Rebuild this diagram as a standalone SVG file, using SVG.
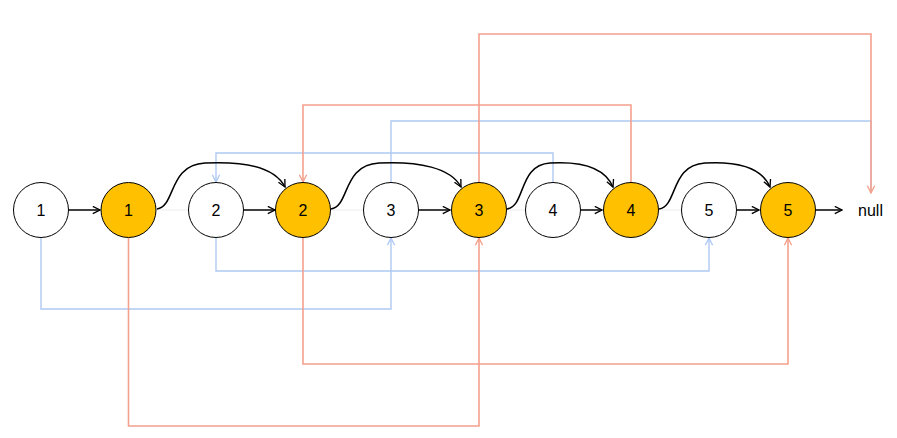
<svg xmlns="http://www.w3.org/2000/svg" width="897" height="438" viewBox="0 0 897 438">
<defs>
<style>
.w{fill:#ffffff;stroke:#000;stroke-width:1}
.o{fill:#FFC000;stroke:#000;stroke-width:1}
.t{font-family:"Liberation Sans",Arial,sans-serif;font-size:16px;fill:#000;text-anchor:middle;dominant-baseline:central}
.k{fill:none;stroke:#000;stroke-width:1.5}
.f{fill:none;stroke:#f0f0f0;stroke-width:1.2}
.r{fill:none;stroke:#F5A08C;stroke-width:1.6}
.b{fill:none;stroke:#AFC9F4;stroke-width:1.4}
</style>
<marker id="ak" viewBox="0 0 10 10" refX="9" refY="5" markerWidth="9" markerHeight="9" markerUnits="userSpaceOnUse" orient="auto"><path d="M1,1 L9,5 L1,9" fill="none" stroke="#000" stroke-width="1.5"/></marker>
<marker id="ar" viewBox="0 0 10 10" refX="9" refY="5" markerWidth="9" markerHeight="9" markerUnits="userSpaceOnUse" orient="auto"><path d="M1,1 L9,5 L1,9" fill="none" stroke="#F5A08C" stroke-width="1.5"/></marker>
<marker id="ab" viewBox="0 0 10 10" refX="9" refY="5" markerWidth="9" markerHeight="9" markerUnits="userSpaceOnUse" orient="auto"><path d="M1,1 L9,5 L1,9" fill="none" stroke="#AFC9F4" stroke-width="1.5"/></marker>
</defs>
<rect width="897" height="438" fill="#fff"/>
<g id="connectors">
<path class="f" d="M157,210 H188"/>
<path class="f" d="M331,210 H363"/>
<path class="f" d="M507,210 H525"/>
<path class="f" d="M659,210 H681"/>
<path class="b" d="M41,238 V309 H391 V238" marker-end="url(#ab)"/>
<path class="b" d="M216,238 V271 H709 V238" marker-end="url(#ab)"/>
<path class="b" d="M391,182 V121 H871 V193"/>
<path class="b" d="M553,182 V153 H216 V182" marker-end="url(#ab)"/>
<path class="r" d="M128.5,238 V426 H479 V238" marker-end="url(#ar)"/>
<path class="r" d="M479,182 V34 H871 V193" marker-end="url(#ar)"/>
<path class="r" d="M303,238 V364 H788 V238" marker-end="url(#ar)"/>
<path class="r" d="M631,182 V105 H303 V182" marker-end="url(#ar)"/>
<path class="k" d="M69,210 H100" marker-end="url(#ak)"/>
<path class="k" d="M244,210 H275" marker-end="url(#ak)"/>
<path class="k" d="M419,210 H450" marker-end="url(#ak)"/>
<path class="k" d="M581,210 H602" marker-end="url(#ak)"/>
<path class="k" d="M737,210 H759" marker-end="url(#ak)"/>
<path class="k" d="M816,210 H842" marker-end="url(#ak)"/>
<path class="k" d="M157,209 C176,206 168,165 205,163 C245,161 275,168 285,187" marker-end="url(#ak)"/>
<path class="k" d="M331,209 C350,206 342,165 379,163 C419,161 451,168 461,187" marker-end="url(#ak)"/>
<path class="k" d="M507,209 C526,206 518,165 550,163 C583,161 605,168 613,187" marker-end="url(#ak)"/>
<path class="k" d="M659,209 C678,206 670,165 705,163 C740,161 762,168 770,187" marker-end="url(#ak)"/>
</g>
<g id="w1"><circle class="w" cx="41" cy="210" r="27.5"/><text class="t" x="41" y="210">1</text></g>
<g id="o1"><circle class="o" cx="128.5" cy="210" r="27.5"/><text class="t" x="128.5" y="210">1</text></g>
<g id="w2"><circle class="w" cx="216" cy="210" r="27.5"/><text class="t" x="216" y="210">2</text></g>
<g id="o2"><circle class="o" cx="303" cy="210" r="27.5"/><text class="t" x="303" y="210">2</text></g>
<g id="w3"><circle class="w" cx="391" cy="210" r="27.5"/><text class="t" x="391" y="210">3</text></g>
<g id="o3"><circle class="o" cx="479" cy="210" r="27.5"/><text class="t" x="479" y="210">3</text></g>
<g id="w4"><circle class="w" cx="553" cy="210" r="27.5"/><text class="t" x="553" y="210">4</text></g>
<g id="o4"><circle class="o" cx="631" cy="210" r="27.5"/><text class="t" x="631" y="210">4</text></g>
<g id="w5"><circle class="w" cx="709" cy="210" r="27.5"/><text class="t" x="709" y="210">5</text></g>
<g id="o5"><circle class="o" cx="788" cy="210" r="27.5"/><text class="t" x="788" y="210">5</text></g>
<g id="null"><text class="t" x="870.5" y="210">null</text></g>
</svg>
